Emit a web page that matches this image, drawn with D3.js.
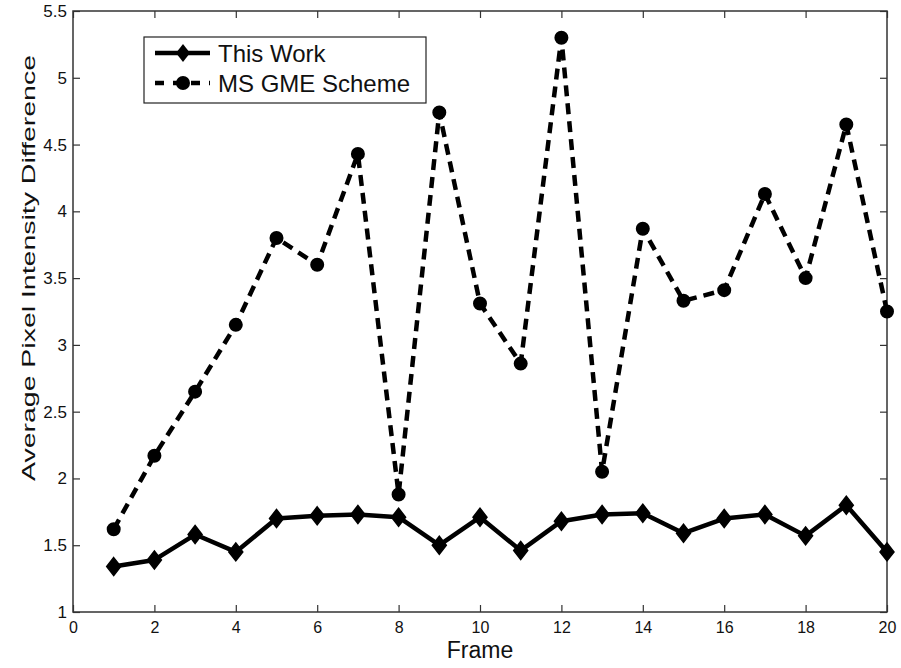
<!DOCTYPE html>
<html>
<head>
<meta charset="utf-8">
<script src="https://cdn.jsdelivr.net/npm/d3@7"></script>
<style>
  body { margin: 0; background: #fff; }
  text { font-family: "Liberation Sans", Arial, Helvetica, sans-serif; fill: #111; }
</style>
</head>
<body>
<svg id="chart" width="901" height="668"></svg>
<script>
const frames = d3.range(1, 21);
const thisWork = [1.34, 1.39, 1.58, 1.45, 1.70, 1.72, 1.73, 1.71, 1.50, 1.71,
                  1.46, 1.68, 1.73, 1.74, 1.59, 1.70, 1.73, 1.57, 1.80, 1.45];
const msGme = [1.62, 2.17, 2.65, 3.15, 3.80, 3.60, 4.43, 1.88, 4.74, 3.31,
               2.86, 5.30, 2.05, 3.87, 3.33, 3.41, 4.13, 3.50, 4.65, 3.25];
const xTicks = d3.range(0, 21, 2);
const yTicks = d3.range(1, 5.51, 0.5);
const seriesNames = ["This Work", "MS GME Scheme"];

const margin = {top: 11, right: 14, bottom: 56, left: 73};
const width = 901 - margin.left - margin.right;
const height = 668 - margin.top - margin.bottom;

const svg = d3.select("#chart");
const g = svg.append("g")
  .attr("transform", "translate(" + margin.left + "," + margin.top + ")");

const x = d3.scaleLinear().domain([0, 20]).range([0, width]);
const y = d3.scaleLinear().domain([1, 5.5]).range([height, 0]);

// axes, matlab style: ticks pointing in, box all round
const axisColor = "#333";
function styleAxis(sel, fontSize) {
  sel.select(".domain").remove();
  sel.selectAll("line").attr("stroke", axisColor).attr("stroke-width", 1.2);
  sel.selectAll("text").style("font-size", fontSize + "px").attr("fill", "#111");
}

g.append("g")
  .attr("transform", "translate(0," + height + ")")
  .call(d3.axisBottom(x).tickValues(xTicks).tickSize(-7).tickPadding(10))
  .call(s => styleAxis(s, 16));

g.append("g")
  .call(d3.axisTop(x).tickValues(xTicks).tickSize(-7).tickFormat(""))
  .call(s => styleAxis(s, 16));

g.append("g")
  .call(d3.axisLeft(y).tickValues(yTicks).tickSize(-7).tickPadding(6).tickFormat(d3.format("")))
  .call(s => styleAxis(s, 17));

g.append("g")
  .attr("transform", "translate(" + width + ",0)")
  .call(d3.axisRight(y).tickValues(yTicks).tickSize(-7).tickFormat(""))
  .call(s => styleAxis(s, 17));

g.append("rect")
  .attr("width", width)
  .attr("height", height)
  .attr("fill", "none")
  .attr("stroke", axisColor)
  .attr("stroke-width", 1.5);

// axis titles
g.append("text")
  .attr("x", width / 2)
  .attr("y", height + 46)
  .attr("text-anchor", "middle")
  .style("font-size", "23px")
  .text("Frame");

svg.append("text")
  .attr("transform", "translate(35,268) rotate(-90)")
  .attr("text-anchor", "middle")
  .attr("textLength", 426)
  .attr("lengthAdjust", "spacingAndGlyphs")
  .style("font-size", "18.5px")
  .text("Average Pixel Intensity Difference");

// lines
const line = d3.line()
  .x((d, i) => x(frames[i]))
  .y(d => y(d));

const diamond = "M0,-9L7,0L0,9L-7,0Z";

g.append("path")
  .datum(msGme)
  .attr("fill", "none")
  .attr("stroke", "#000")
  .attr("stroke-width", 4.5)
  .attr("stroke-dasharray", "11,7")
  .attr("d", line);

g.append("path")
  .datum(thisWork)
  .attr("fill", "none")
  .attr("stroke", "#000")
  .attr("stroke-width", 4.5)
  .attr("stroke-linejoin", "round")
  .attr("d", line);

g.selectAll(".dot")
  .data(msGme)
  .enter().append("circle")
  .attr("class", "dot")
  .attr("cx", (d, i) => x(frames[i]))
  .attr("cy", d => y(d))
  .attr("r", 6)
  .attr("fill", "#000")
  .attr("stroke", "#000")
  .attr("stroke-width", 2);

g.selectAll(".dia")
  .data(thisWork)
  .enter().append("path")
  .attr("class", "dia")
  .attr("transform", (d, i) => "translate(" + x(frames[i]) + "," + y(d) + ")")
  .attr("d", diamond)
  .attr("fill", "#000")
  .attr("stroke", "#000")
  .attr("stroke-width", 1.5);

// legend
const legend = svg.append("g").attr("transform", "translate(144,37)");
legend.append("rect")
  .attr("width", 282)
  .attr("height", 66)
  .attr("fill", "#fff")
  .attr("stroke", "#222")
  .attr("stroke-width", 1.2);

const rows = legend.selectAll(".row")
  .data(seriesNames)
  .enter().append("g")
  .attr("class", "row")
  .attr("transform", (d, i) => "translate(0," + (16 + i * 30) + ")");

rows.append("line")
  .attr("x1", 11).attr("x2", 66)
  .attr("stroke", "#000")
  .attr("stroke-width", 4.5)
  .attr("stroke-dasharray", (d, i) => i === 0 ? null : "9,9");

rows.filter((d, i) => i === 0).append("path")
  .attr("transform", "translate(39,0)")
  .attr("d", diamond)
  .attr("fill", "#000");

rows.filter((d, i) => i === 1).append("circle")
  .attr("cx", 39).attr("r", 7)
  .attr("fill", "#000");

rows.append("text")
  .attr("x", 74)
  .attr("dy", "0.36em")
  .style("font-size", "24px")
  .text(d => d);
</script>
</body>
</html>
